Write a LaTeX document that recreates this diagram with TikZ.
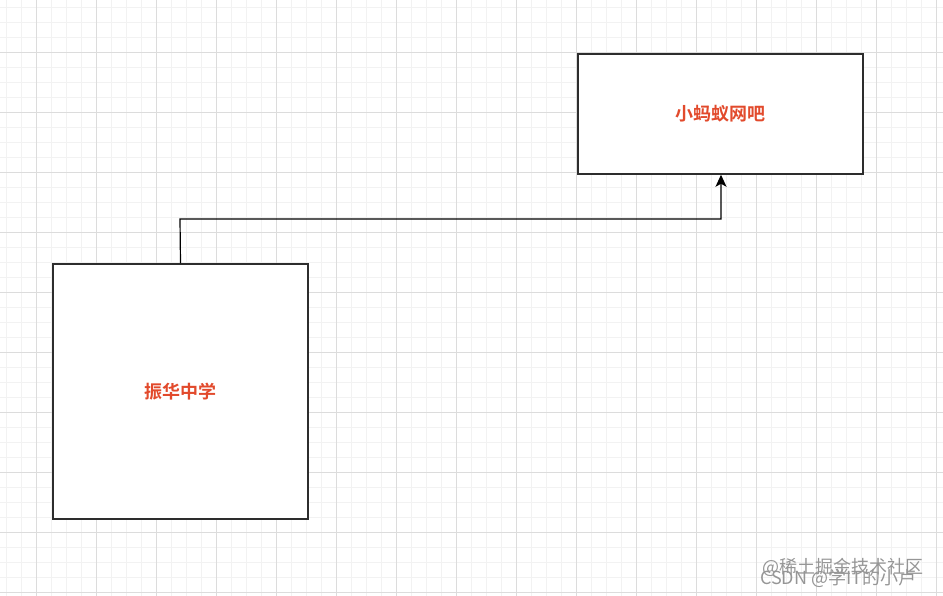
\documentclass[tikz,border=0pt]{standalone}
\usepackage{fontspec}
\newfontfamily\cjk{Noto Sans CJK SC}
\newfontfamily\cjkb{Noto Sans CJK SC Bold}
\usetikzlibrary{arrows.meta}
\definecolor{minorgrid}{RGB}{242,242,242}
\definecolor{majorgrid}{RGB}{220,220,220}
\definecolor{boxline}{RGB}{45,45,45}
\definecolor{labelred}{RGB}{226,74,44}
\definecolor{wmgray}{RGB}{150,150,150}
\tikzset{
  boxnode/.style={draw=boxline, line width=1.5pt, fill=white, inner sep=0pt, font=\cjkb\fontsize{18}{18}\selectfont, text=labelred},
  conn/.style={draw=black, line width=1.2pt, -{Stealth[length=12pt,width=11pt,inset=3pt]}},
  wm/.style={text=wmgray, font=\cjk\fontsize{18}{18}\selectfont, inner sep=0pt, anchor=west}
}
\begin{document}
\begin{tikzpicture}[x=1pt,y=-1pt]
\useasboundingbox (0,0) rectangle (943,596);
\fill[white] (0,0) rectangle (943,596);
% minor grid
\foreach \x in {6,21,...,943} \draw[minorgrid, line width=0.8pt] (\x,0) -- (\x,596);
\foreach \y in {7,22,...,596} \draw[minorgrid, line width=0.8pt] (0,\y) -- (943,\y);
% major grid
\foreach \x in {36,96,...,943} \draw[majorgrid, line width=0.8pt] (\x,0) -- (\x,596);
\foreach \y in {52,112,...,596} \draw[majorgrid, line width=0.8pt] (0,\y) -- (943,\y);
% boxes
\node[boxnode, minimum width=255pt, minimum height=255pt] (school) at (180.5,391.5) {振华中学};
\node[boxnode, minimum width=285pt, minimum height=120pt] (cafe) at (720.5,114) {小蚂蚁网吧};
\coordinate (c1) at (180,219);
\coordinate (c2) at (721,219);
\draw[conn] (school.north) -- (c1) -- (c2) -- (c2 |- cafe.south);
% watermarks
\node[wm] (wm1) at (762,567) {@稀土掘金技术社区};
\node[wm] (wm2) at (760,578) {CSDN @学IT的小卢};
\end{tikzpicture}
\end{document}
